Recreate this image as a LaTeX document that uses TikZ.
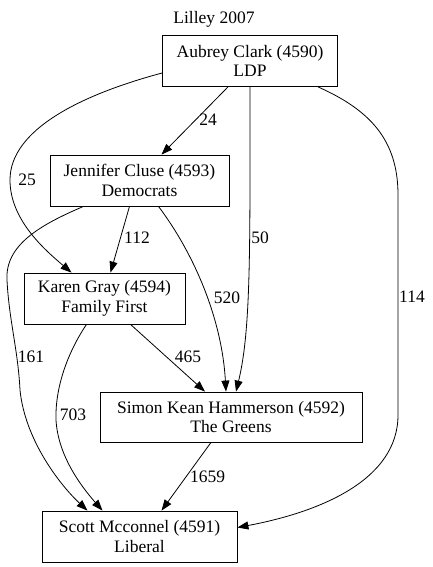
\documentclass[tikz,border=0pt]{standalone}
\usepackage{fontspec}
\setmainfont{Liberation Serif}
\usetikzlibrary{arrows.meta,calc}
\tikzset{gvtext/.style={font=\fontsize{17.5pt}{19.5pt}\selectfont}}
\begin{document}
\begin{tikzpicture}[x=1pt,y=-1pt,
  person/.style={draw, gvtext, line width=0.8pt, align=center, inner sep=0pt, minimum height=51pt},
  edge/.style={draw, line width=0.8pt, -{Triangle[length=11pt,width=8pt]}},
  lab/.style={gvtext, inner sep=1pt}]
\useasboundingbox[fill=white] (0,0) rectangle (432,567);
\node[gvtext] (title) at (214,19) {Lilley 2007};
\node[person, minimum width=175pt] (A) at (250,61) {Aubrey Clark (4590)\\LDP};
\node[person, minimum width=179pt] (J) at (139.5,180.5) {Jennifer Cluse (4593)\\Democrats};
\node[person, minimum width=161pt] (K) at (104.5,298.5) {Karen Gray (4594)\\Family First};
\node[person, minimum width=262pt, minimum height=50pt] (S) at (231,417) {Simon Kean Hammerson (4592)\\The Greens};
\node[person, minimum width=195pt] (C) at (139.5,536.5) {Scott Mcconnel (4591)\\Liberal};
% edges
\draw[edge] ($(A.south)+(-22,0)$) -- ($(J.north)+(22,0)$);
\node[lab] (l24) at (208,120) {24};
\draw[edge] ($(A.west)+(0,12)$) .. controls (80,95) and (10,130) .. (10,180)
  .. controls (10,220) and (45,250) .. ($(K.north)+(-33,0)$);
\node[lab] (l25) at (27,180) {25};
\draw[edge] (A.south) .. controls (250,250) and (251,330) .. ($(S.north)+(5,0)$);
\node[lab] (l50) at (260,238) {50};
\draw[edge] ($(A.south)+(68,0)$) .. controls (370,110) and (398,140) .. (398,195)
  -- (398,415) .. controls (398,480) and (320,512) .. ($(C.east)+(0,-9)$);
\node[lab] (l114) at (412,297) {114};
\draw[edge] ($(J.south)+(-10,0)$) -- ($(K.north)+(6,0)$);
\node[lab] (l112) at (137,238) {112};
\draw[edge] ($(J.south)+(19,0)$) .. controls (195,255) and (222,320) .. ($(S.north)+(-5,0)$);
\node[lab] (l520) at (227,298) {520};
\draw[edge] ($(J.south)+(-56,0)$) .. controls (40,225) and (5,245) .. (7,280)
  .. controls (9,320) and (18,350) .. (20,390)
  .. controls (25,440) and (60,485) .. ($(C.north)+(-52,0)$);
\node[lab] (l161) at (31,357) {161};
\draw[edge] ($(K.south)+(26,0)$) -- ($(S.north)+(-26,0)$);
\node[lab] (l465) at (188,357) {465};
\draw[edge] ($(K.south)+(-18,0)$) .. controls (66,355) and (55,390) .. (56,420)
  .. controls (58,455) and (80,485) .. ($(C.north)+(-37,0)$);
\node[lab] (l703) at (73,415) {703};
\draw[edge] ($(S.south)+(-20,0)$) -- ($(C.north)+(22,0)$);
\node[lab] (l1659) at (207.5,477) {1659};
\end{tikzpicture}
\end{document}
